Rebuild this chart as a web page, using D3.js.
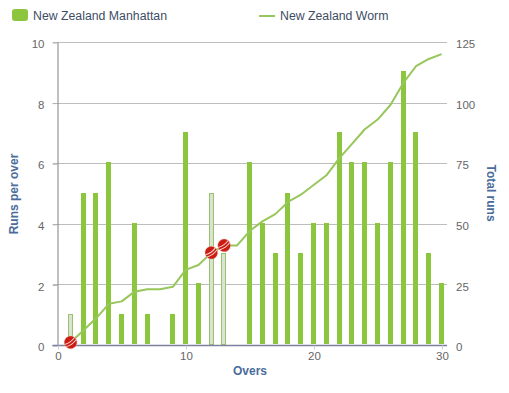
<!DOCTYPE html>
<html><head><meta charset="utf-8">
<script src="https://cdnjs.cloudflare.com/ajax/libs/d3/7.8.5/d3.min.js"></script>
<style>
html,body{margin:0;padding:0;background:#fff}
svg{display:block;font-family:"Liberation Sans",Arial,sans-serif}
</style></head><body><div id="c"></div>
<script>
const overs=[1,2,3,4,5,6,7,8,9,10,11,12,13,14,15,16,17,18,19,20,21,22,23,24,25,26,27,28,29,30];
const runsPerOver=[1,5,5,6,1,4,1,0,1,7,2,5,3,0,6,4,3,5,3,4,4,7,6,6,4,6,9,7,3,2];
const totalRuns=[1,6,11,17,18,22,23,23,24,31,33,38,41,41,47,51,54,59,62,66,70,77,83,89,93,99,108,115,118,120];
const wicketOvers=[1,12,13];
const xTicks=[0,10,20,30];
const leftTicks=[0,2,4,6,8,10];
const rightTicks=[0,25,50,75,100,125];
const seriesNames=["New Zealand Manhattan","New Zealand Worm"];
const axisTitles={x:"Overs",left:"Runs per over",right:"Total runs"};

const W=509,H=393,L=57.5,R=447,T=42.5,B=345.5;
const green="#8cc63f",lineGreen="#97c65a",titleCol="#4a6c9b",tickCol="#666",gridCol="#bdbdbd";
const svg=d3.select("#c").append("svg").attr("width",W).attr("height",H);
const x=d3.scaleLinear().domain([0,30.4]).range([L+.5,R]);
const yL=d3.scaleLinear().domain([0,10]).range([B,T]);
const yR=d3.scaleLinear().domain([0,125]).range([B,T]);

// grid
svg.append("g").attr("shape-rendering","crispEdges").selectAll("line").data(leftTicks.filter(d=>d>0)).join("line")
 .attr("x1",L-5).attr("x2",R).attr("y1",d=>Math.floor(yL(d))+.5).attr("y2",d=>Math.floor(yL(d))+.5)
 .attr("stroke",gridCol).attr("stroke-width",1);

// bars
const barW=5;
const isW=o=>wicketOvers.includes(o);
svg.append("g").selectAll("rect").data(overs.filter((o,i)=>runsPerOver[i]>0)).join("rect")
 .attr("x",o=>Math.round(x(o)-barW/2-.4)+(isW(o)?.5:0)).attr("width",o=>isW(o)?barW-1:barW)
 .attr("y",o=>Math.floor(yL(runsPerOver[o-1]))-1+(isW(o)?.5:0))
 .attr("height",o=>Math.floor(yL(0))-Math.floor(yL(runsPerOver[o-1])))
 .attr("fill",o=>isW(o)?"#d8e4d0":green)
 .attr("stroke",o=>isW(o)?"#9cc06c":"none")
 .attr("stroke-width",1);

// worm
svg.append("path").datum(overs).attr("fill","none").attr("stroke",lineGreen).attr("stroke-width",2)
 .attr("stroke-linejoin","round")
 .attr("d",d3.line().x(o=>x(o)-.3).y(o=>yR(totalRuns[o-1])-.5));

// axes
const axL=d3.axisLeft(yL).tickValues(leftTicks).tickSize(5).tickPadding(8);
const gL=svg.append("g").attr("transform",`translate(${L},0)`).call(axL);
const axR=d3.axisRight(yR).tickValues(rightTicks).tickSize(0).tickPadding(9);
const gR=svg.append("g").attr("transform",`translate(${R},0)`).call(axR);
gR.select(".domain").remove();
const axB=d3.axisBottom(x).tickValues(xTicks).tickSize(4).tickPadding(2);
const gB=svg.append("g").attr("transform",`translate(0,${B})`).call(axB);
gL.select(".domain").attr("stroke","#808080").attr("d",`M0.5,${T}V${B}`);
gL.selectAll(".tick line").attr("stroke","#b0b0b0");
gB.select(".domain").attr("stroke","#7f7f9f").attr("stroke-width",1.5).attr("d",`M${L-5},0H${R}`);
gB.selectAll(".tick line").attr("stroke","#c0d0e0");
for(const g of [gL,gR,gB]) g.selectAll("text").attr("fill",tickCol).style("font-size","11.5px").style("font-family",'"Liberation Sans",Arial,sans-serif');
gL.selectAll("text").attr("dy","0.45em");
gR.selectAll("text").attr("dy","0.45em");

// wickets
const balls=svg.append("g").selectAll("g").data(wicketOvers).join("g")
 .attr("transform",o=>`translate(${x(o)-.2},${yR(totalRuns[o-1])-.7}) rotate(-35)`);
balls.append("circle").attr("r",6.4).attr("fill","#cc1a14").attr("stroke","#e8b8a8").attr("stroke-width",.4);
balls.append("path").attr("d","M-6,-1.7Q0,0.4 6,-1.7").attr("fill","none").attr("stroke","#f6d8d0").attr("stroke-width",1);
balls.append("path").attr("d","M-6,1Q0,3.1 6,1").attr("fill","none").attr("stroke","#f6d8d0").attr("stroke-width",1);

// titles
const title=(t,tx,ty,rot)=>svg.append("text").attr("transform",`translate(${tx},${ty}) rotate(${rot})`)
 .attr("text-anchor","middle").attr("fill",titleCol).style("font-size","12px").style("font-weight","bold").text(t);
title(axisTitles.x,250,375,0);
title(axisTitles.left,18,194,-90);
title(axisTitles.right,487,193,90);

// legend
const lg=svg.append("g");
lg.append("rect").attr("x",12).attr("y",9).attr("width",16).attr("height",12).attr("rx",3).attr("fill",green);
lg.append("line").attr("x1",259).attr("x2",275).attr("y1",16).attr("y2",16).attr("stroke",lineGreen).attr("stroke-width",2);
lg.selectAll("text").data(seriesNames).join("text")
 .attr("x",(d,i)=>i?280:33).attr("y",20).attr("fill","#3e4d66").style("font-size","12.3px").text(d=>d);
</script></body></html>
